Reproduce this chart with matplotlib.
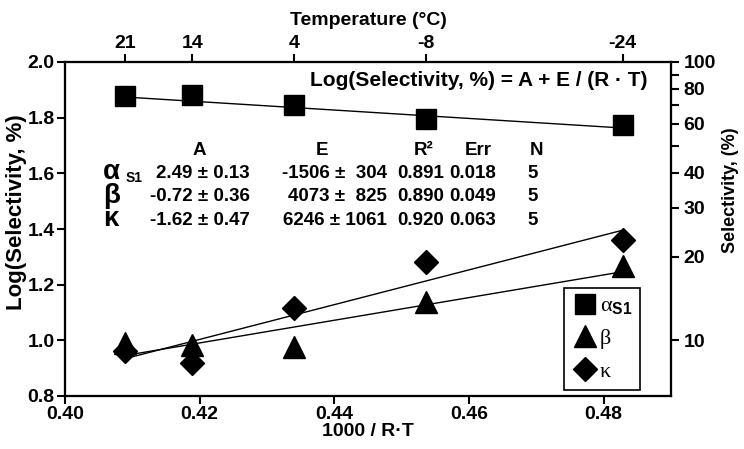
import matplotlib
matplotlib.use('Agg')
import numpy as np
import matplotlib.pyplot as plt
from matplotlib.lines import Line2D
from matplotlib.font_manager import FontProperties

plt.rcParams['font.family'] = ['Liberation Sans', 'DejaVu Sans']
plt.rcParams['font.weight'] = 'bold'
plt.rcParams['mathtext.fontset'] = 'custom'
plt.rcParams['mathtext.rm'] = 'Liberation Serif:normal'
plt.rcParams['mathtext.it'] = 'Liberation Serif:italic:normal'
plt.rcParams['mathtext.bf'] = 'Liberation Sans:bold'

# ---- data ----
temps_c = [21, 14, 4, -8, -24]
inv_rt = [0.4089, 0.4189, 0.4340, 0.4536, 0.4828]   # 1000 / R·T
log_alpha = [1.878, 1.882, 1.845, 1.795, 1.775]
log_beta = [0.990, 0.983, 0.976, 1.136, 1.268]
log_kappa = [0.960, 0.917, 1.115, 1.283, 1.362]

series_names = ['α', 'β', 'κ']
fit_A = [2.49, -0.72, -1.62]
fit_A_err = [0.13, 0.36, 0.47]
fit_E = [-1506, 4073, 6246]
fit_E_err = [304, 825, 1061]
fit_R2 = [0.891, 0.890, 0.920]
fit_Err = [0.018, 0.049, 0.063]
fit_N = [5, 5, 5]

left_ticks = [0.8, 1.0, 1.2, 1.4, 1.6, 1.8, 2.0]
bottom_ticks = [0.40, 0.42, 0.44, 0.46, 0.48]
right_major = [10, 20, 30, 40, 60, 80, 100]
right_minor = [50, 70, 90]

fig = plt.figure(figsize=(7.44, 4.49), dpi=100)
L, R, T, B = 65, 671, 62, 396
ax = fig.add_axes([L / 744, 1 - B / 449, (R - L) / 744, (B - T) / 449])

TS = 14
ax.set_xlim(0.40, 0.49)
ax.set_ylim(0.8, 2.0)
ax.set_xticks(bottom_ticks)
ax.set_xticklabels([f'{v:.2f}' for v in bottom_ticks])
ax.set_yticks(left_ticks)
ax.set_yticklabels([f'{v:.1f}' for v in left_ticks])
ax.tick_params(axis='both', direction='out', length=6, width=1.5, labelsize=TS, pad=1.5)
for s in ax.spines.values():
    s.set_linewidth(1.5)
ax.set_xlabel('1000 / R·T', fontsize=14, fontweight='bold', labelpad=0)
ax.set_ylabel('Log(Selectivity, %)', fontsize=16, fontweight='bold')
ax.yaxis.set_label_coords(-0.062, 0.55)

# fit lines
xs = np.array([inv_rt[0], inv_rt[-1]])
for A, E in zip(fit_A, fit_E):
    ax.plot(xs, A + E / 1000.0 * xs, color='black', lw=1.0, zorder=2)

ax.plot(inv_rt, log_alpha, ls='', marker='s', ms=14, color='black', zorder=3)
ax.plot(inv_rt, log_beta, ls='', marker='^', ms=16, color='black', zorder=3)
ax.plot(inv_rt, log_kappa, ls='', marker='D', ms=12.5, color='black', zorder=3)

# equation
ax.text(0.4865, 1.935, 'Log(Selectivity, %) = A + E / (R · T)', fontsize=15,
        fontweight='bold', ha='right', va='center')

# table
hdr_y = 1.683
row_y = [1.600, 1.516, 1.432]
tfs = 13.5
ax.text(0.4200, hdr_y, 'A', fontsize=tfs, ha='center', va='center')
ax.text(0.4382, hdr_y, 'E', fontsize=tfs, ha='center', va='center')
ax.text(0.4533, hdr_y, 'R²', fontsize=tfs, ha='center', va='center')
ax.text(0.4613, hdr_y, 'Err', fontsize=tfs, ha='center', va='center')
ax.text(0.4700, hdr_y, 'N', fontsize=tfs, ha='center', va='center')
for i, y in enumerate(row_y):
    ax.text(0.4056, y + 0.004, series_names[i], fontsize=20, ha='left', va='center')
    ax.text(0.4274, y, f'{fit_A[i]:.2f} ± {fit_A_err[i]:.2f}', fontsize=tfs, ha='right', va='center')
    sep = ' ±  ' if fit_E_err[i] < 1000 else ' ± '
    ax.text(0.4478, y, f'{fit_E[i]}{sep}{fit_E_err[i]}', fontsize=tfs, ha='right', va='center')
    ax.text(0.4528, y, f'{fit_R2[i]:.3f}', fontsize=tfs, ha='center', va='center')
    ax.text(0.4605, y, f'{fit_Err[i]:.3f}', fontsize=tfs, ha='center', va='center')
    ax.text(0.4695, y, f'{fit_N[i]}', fontsize=tfs, ha='center', va='center')
ax.text(0.4090, row_y[0] - 0.018, 'S1', fontsize=10, ha='left', va='center')

# legend
handles = [Line2D([], [], ls='', marker='s', ms=14, color='black'),
           Line2D([], [], ls='', marker='^', ms=16, color='black'),
           Line2D([], [], ls='', marker='D', ms=12.5, color='black')]
labels = [r'$\mathrm{α}_{\mathbf{S1}}$', 'β', 'κ']
leg = ax.legend(handles, labels, loc='upper left',
                bbox_to_anchor=((564 - L) / (R - L), (B - 288) / (B - T)),
                bbox_transform=ax.transAxes, borderaxespad=0,
                prop=FontProperties(family='Liberation Serif', size=16, weight='normal'),
                frameon=True, fancybox=False, edgecolor='black', framealpha=1,
                handlelength=1.15, handletextpad=0.1, labelspacing=0.55,
                borderpad=0.35)
leg.get_frame().set_linewidth(1.2)

# right log axis
ax2 = ax.twinx()
ax2.set_yscale('log')
ax2.set_ylim(10 ** 0.8, 100)
ax2.set_yticks(right_major)
ax2.set_yticklabels([str(v) for v in right_major])
ax2.set_yticks(right_minor, minor=True)
ax2.set_yticklabels([], minor=True)
ax2.tick_params(axis='y', which='both', direction='out', length=6, width=1.5,
                labelsize=TS, pad=3)
ax2.set_ylabel('Selectivity, (%)', fontsize=13, fontweight='bold')
ax2.yaxis.set_label_coords(1.084, 0.615)
for s in ax2.spines.values():
    s.set_linewidth(1.5)

# top temperature axis
ax3 = ax.twiny()
ax3.set_xlim(ax.get_xlim())
ax3.set_xticks(inv_rt)
ax3.set_xticklabels([str(t) for t in temps_c])
ax3.tick_params(axis='x', direction='out', length=6, width=1.5, labelsize=TS, pad=1.5)
ax3.set_xlabel('Temperature (°C)', fontsize=14, fontweight='bold', labelpad=7)
for s in ax3.spines.values():
    s.set_linewidth(1.5)

fig.savefig('out.png', dpi=100)
